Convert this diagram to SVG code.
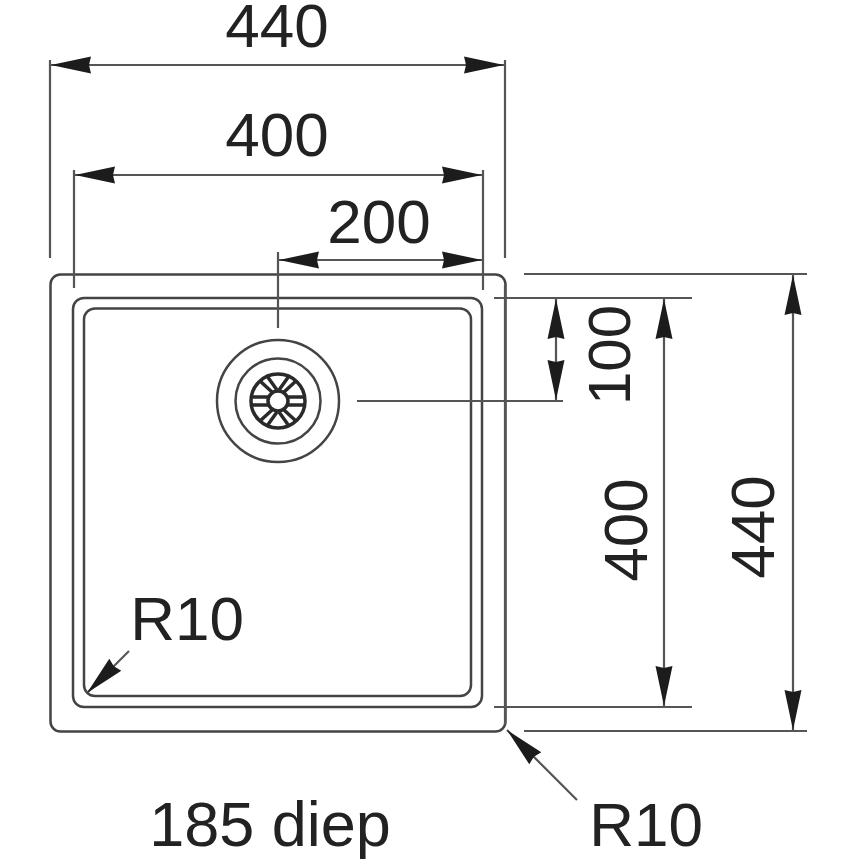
<svg xmlns="http://www.w3.org/2000/svg" width="860" height="860" viewBox="0 0 860 860">
<defs>
<marker id="a" markerUnits="userSpaceOnUse" markerWidth="42" markerHeight="20" refX="40" refY="10" orient="auto-start-reverse"><path d="M0 1.500L40 10L0 18.500L2 10Z" fill="#1c1c1c"/></marker>
</defs>
<style>
.o{fill:none;stroke:#444;stroke-width:2.500}
.s{fill:none;stroke:#2a2a2a;stroke-width:3.500}
.d{fill:none;stroke:#555;stroke-width:2.200}
.t{font-family:"Liberation Sans",Arial,sans-serif;font-size:62px;fill:#222;text-anchor:middle}
</style>
<rect width="860" height="860" fill="#fff"/>
<g id="sink">
<rect class="o" x="50.500" y="274.500" width="455" height="457" rx="10"/>
<rect class="o" x="73" y="298" width="409" height="409" rx="11"/>
<rect class="o" x="84" y="308.500" width="387" height="387.500" rx="11"/>
</g>
<g id="drain">
<circle class="o" cx="278" cy="401" r="61"/>
<circle class="o" cx="278" cy="401" r="42.500"/>
<circle class="s" cx="278" cy="401" r="27"/>
<circle class="s" cx="278" cy="401" r="10"/>
<path class="s" d="M251 397H268M251 405H268M288 397H305M288 405H305M260 381L272 392M267 376L277 390M296 381L284 392M289 376L279 390M260 421L272 410M267 426L277 412M296 421L284 410M289 426L279 412"/>
</g>
<g id="connectors">
<path class="d" d="M50 258V60M505 258V60M74 288V170M483 290V170M278 328V252M494 298H692M494 707H692M524 274H807M524 731H807M357 401H563M505 285V725"/>
<path class="d" marker-start="url(#a)" marker-end="url(#a)" d="M51 65H504"/>
<path class="d" marker-start="url(#a)" marker-end="url(#a)" d="M75 175H482"/>
<path class="d" marker-start="url(#a)" marker-end="url(#a)" d="M279 260H482"/>
<path class="d" marker-start="url(#a)" marker-end="url(#a)" d="M556 299V400"/>
<path class="d" marker-start="url(#a)" marker-end="url(#a)" d="M664 299V706"/>
<path class="d" marker-start="url(#a)" marker-end="url(#a)" d="M793 275V730"/>
<path class="d" marker-end="url(#a)" d="M129 651L87 693"/>
<path class="d" marker-end="url(#a)" d="M577 800L507 730"/>
</g>
<g id="labels">
<text class="t" x="277" y="47">440</text>
<text class="t" x="277" y="156">400</text>
<text class="t" x="379" y="243">200</text>
<text class="t" style="font-size:60px" transform="translate(630 355) rotate(-90)">100</text>
<text class="t" transform="translate(647 530) rotate(-90)">400</text>
<text class="t" transform="translate(774 527) rotate(-90)">440</text>
<text class="t" x="187" y="640">R10</text>
<text class="t" x="646" y="846">R10</text>
<text class="t" style="font-size:63px" x="270" y="846">185 diep</text>
</g>
</svg>
